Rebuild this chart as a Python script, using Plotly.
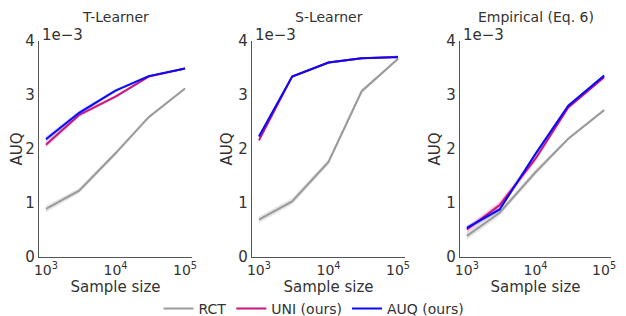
import plotly.graph_objects as go
import numpy as np

sample_sizes = [1000, 3000, 10000, 30000, 100000]
panel_titles = ["T-Learner", "S-Learner", "Empirical (Eq. 6)"]
series_names = ["RCT", "UNI (ours)", "AUQ (ours)"]
series_colors = ["#9a9a9a", "#c8157f", "#0a0af5"]
band_colors = ["rgba(150,150,150,0.25)", "rgba(200,21,127,0.2)", "rgba(10,10,245,0.2)"]

# values in units of 1e-3
t_rct = [0.89, 1.23, 1.92, 2.59, 3.12]
t_uni = [2.08, 2.63, 2.97, 3.34, 3.49]
t_auq = [2.18, 2.67, 3.08, 3.35, 3.49]
s_rct = [0.69, 1.03, 1.76, 3.07, 3.67]
s_uni = [2.16, 3.34, 3.60, 3.68, 3.71]
s_auq = [2.23, 3.34, 3.60, 3.68, 3.70]
e_rct = [0.39, 0.82, 1.57, 2.19, 2.72]
e_uni = [0.51, 0.96, 1.82, 2.77, 3.33]
e_auq = [0.54, 0.88, 1.91, 2.80, 3.36]

# approximate standard errors (1e-3)
t_rct_sd = [0.06, 0.05, 0.04, 0.03, 0.02]
t_uni_sd = [0.05, 0.04, 0.03, 0.02, 0.02]
t_auq_sd = [0.05, 0.04, 0.03, 0.02, 0.02]
s_rct_sd = [0.06, 0.06, 0.05, 0.04, 0.02]
s_uni_sd = [0.04, 0.02, 0.02, 0.02, 0.01]
s_auq_sd = [0.04, 0.02, 0.02, 0.02, 0.01]
e_rct_sd = [0.07, 0.06, 0.05, 0.03, 0.02]
e_uni_sd = [0.06, 0.07, 0.06, 0.04, 0.02]
e_auq_sd = [0.04, 0.04, 0.04, 0.03, 0.02]

panels = [
    [(t_rct, t_rct_sd), (t_uni, t_uni_sd), (t_auq, t_auq_sd)],
    [(s_rct, s_rct_sd), (s_uni, s_uni_sd), (s_auq, s_auq_sd)],
    [(e_rct, e_rct_sd), (e_uni, e_uni_sd), (e_auq, e_auq_sd)],
]

# page has an 8px body margin; figure coords are screen coords minus 8
OFF = 8
W, H = 618, 308


def fx(px):
    return (px - OFF) / W


def fy(py):
    return 1 - (py - OFF) / H


x_px = [(39, 192), (252, 405), (460, 611)]
y_px = (41, 257)

fig = go.Figure()
txt = "#333333"
font = "DejaVu Sans"

for p, (series, (x0, x1)) in enumerate(zip(panels, x_px)):
    xa = "x" if p == 0 else f"x{p+1}"
    ya = "y" if p == 0 else f"y{p+1}"
    for s, (vals, sd) in enumerate(series):
        lo = [v - d for v, d in zip(vals, sd)]
        hi = [v + d for v, d in zip(vals, sd)]
        fig.add_trace(go.Scatter(x=sample_sizes + sample_sizes[::-1], y=hi + lo[::-1],
                                 fill="toself", fillcolor=band_colors[s], line=dict(width=0),
                                 mode="lines", hoverinfo="skip", showlegend=False,
                                 xaxis=xa, yaxis=ya))
        fig.add_trace(go.Scatter(x=sample_sizes, y=vals, mode="lines",
                                 line=dict(color=series_colors[s], width=2),
                                 name=series_names[s], showlegend=(p == 0),
                                 xaxis=xa, yaxis=ya))
    ax = dict(type="log", range=[np.log10(1000) - 0.1, np.log10(100000) + 0.1],
              domain=[fx(x0), fx(x1)], anchor=ya, automargin=False,
              tickvals=[1000, 10000, 100000],
              ticktext=["10<sup>3</sup>", "10<sup>4</sup>", "10<sup>5</sup>"],
              ticks="", showgrid=False, zeroline=False, showline=True,
              linecolor="#555555", linewidth=1.2, ticklabeloverflow="allow",
              tickfont=dict(family=font, size=14, color=txt),
              title=dict(text="Sample size", font=dict(family=font, size=15, color=txt), standoff=0))
    ay = dict(range=[0, 4], domain=[fy(y_px[1]), fy(y_px[0])], anchor=xa,
              automargin=False,
              tickvals=[0, 1, 2, 3, 4], ticks="", showgrid=False, zeroline=False,
              showline=True, linecolor="#555555", linewidth=1.2,
              tickfont=dict(family=font, size=15, color=txt),
              title=dict(text="AUQ", font=dict(family=font, size=15, color=txt), standoff=2))
    fig.layout[f"xaxis{'' if p == 0 else p+1}"] = ax
    fig.layout[f"yaxis{'' if p == 0 else p+1}"] = ay
    fig.add_annotation(text=panel_titles[p], x=fx((x0 + x1) / 2), y=fy(17),
                       xanchor="center", yanchor="middle",
                       xref="paper", yref="paper", showarrow=False,
                       font=dict(family=font, size=14, color=txt))
    fig.add_annotation(text="1e\u22123", x=fx(x0 + 1), y=fy(35), xanchor="left", yanchor="middle",
                       xref="paper", yref="paper", showarrow=False,
                       font=dict(family=font, size=15, color=txt))

fig.update_layout(
    width=W, height=H, margin=dict(l=0, r=0, t=0, b=0, autoexpand=False),
    plot_bgcolor="white", paper_bgcolor="white",
    legend=dict(orientation="h", x=fx(314), xanchor="center", y=fy(309), yanchor="middle",
                font=dict(family=font, size=14, color=txt), itemwidth=30,
                traceorder="normal"),
    showlegend=True,
)

fig.write_html("out.html")
